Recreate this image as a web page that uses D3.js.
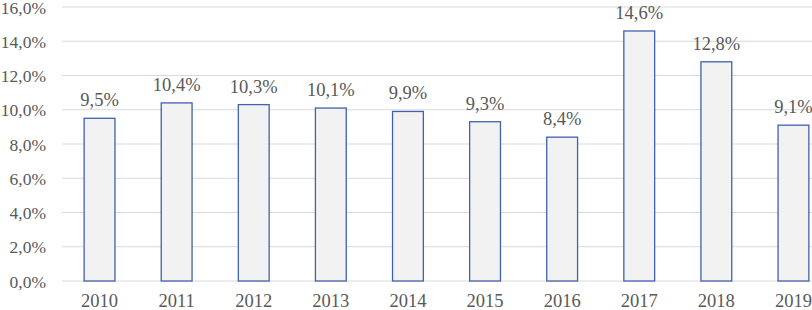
<!DOCTYPE html>
<html>
<head>
<meta charset="utf-8">
<script src="https://cdn.jsdelivr.net/npm/d3@7"></script>
<style>
  body { margin: 0; background: #fff; }
</style>
</head>
<body>
<svg id="chart" width="812" height="310"></svg>
<script>
// data
const years = ["2010", "2011", "2012", "2013", "2014", "2015", "2016", "2017", "2018", "2019"];
const values = [9.5, 10.4, 10.3, 10.1, 9.9, 9.3, 8.4, 14.6, 12.8, 9.1];
const yTicks = [0, 2, 4, 6, 8, 10, 12, 14, 16];

const svg = d3.select("#chart");
const fmt = v => v.toFixed(1).replace(".", ",") + "%";
const textColor = "#595959";
const serif = '"Liberation Serif"';
const fontSize = "18.5px";

// plot area runs past the right edge (chart is cropped there)
const x = d3.scaleBand().domain(years).range([61, 832]).paddingInner(0.6).paddingOuter(0.3);
const y = d3.scaleLinear().domain([0, 16]).range([281, 7]);

// gridlines
svg.append("g").selectAll("line")
  .data(yTicks)
  .join("line")
  .attr("x1", 62).attr("x2", 812)
  .attr("y1", d => y(d)).attr("y2", d => y(d))
  .attr("stroke", "#d9d9d9").attr("stroke-width", 1);

// y labels (slightly smaller so they stay inside the left edge)
svg.append("g").selectAll("text")
  .data(yTicks)
  .join("text")
  .attr("x", 46).attr("y", d => y(d) + 6.5)
  .attr("text-anchor", "end")
  .style("font-family", serif)
  .style("font-size", "17.5px")
  .attr("fill", textColor)
  .text(d => fmt(d));

// bars
svg.append("g").selectAll("rect")
  .data(values)
  .join("rect")
  .attr("x", (d, i) => x(years[i]))
  .attr("y", d => y(d))
  .attr("width", x.bandwidth())
  .attr("height", d => y(0) - y(d))
  .attr("fill", "#f2f2f2")
  .attr("stroke", "#4161ad")
  .attr("stroke-width", 1.3);

// value labels
svg.append("g").selectAll("text")
  .data(values)
  .join("text")
  .attr("x", (d, i) => x(years[i]) + x.bandwidth() / 2)
  .attr("y", d => y(d) - 12)
  .attr("text-anchor", "middle")
  .style("font-family", serif)
  .style("font-size", fontSize)
  .attr("fill", textColor)
  .text(d => fmt(d));

// x labels
svg.append("g").selectAll("text")
  .data(years)
  .join("text")
  .attr("x", d => x(d) + x.bandwidth() / 2)
  .attr("y", 307)
  .attr("text-anchor", "middle")
  .style("font-family", serif)
  .style("font-size", fontSize)
  .attr("fill", textColor)
  .text(d => d);
</script>
</body>
</html>
